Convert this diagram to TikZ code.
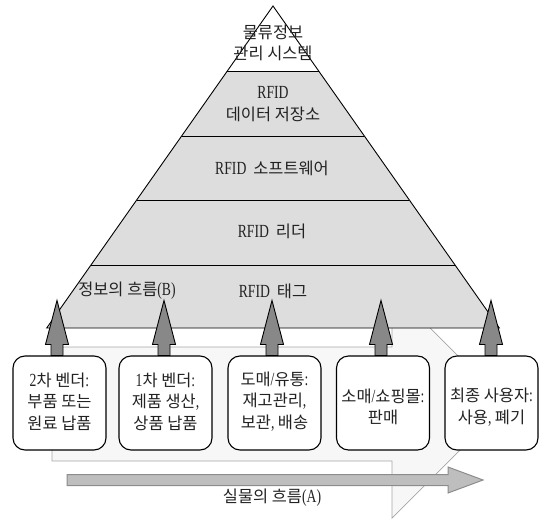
\documentclass[tikz,border=0pt]{standalone}
\usepackage{fontspec}
\setmainfont[FakeStretch=0.74]{Liberation Serif}
\newfontfamily\krfont{Noto Sans CJK KR}
\newcommand\kr{\krfont\fontsize{16.4bp}{21.5bp}\selectfont}
\newcommand\rfidgap{\kern3.5bp\ }
\usetikzlibrary{calc}
\definecolor{pyrgray}{HTML}{DDDDDD}
\definecolor{bgfill}{HTML}{F7F7F7}
\definecolor{bgline}{HTML}{A6A6A6}
\definecolor{upfill}{HTML}{888888}
\definecolor{flowfill}{HTML}{BEBEBE}
\definecolor{flowline}{HTML}{8C8C8C}
\definecolor{txt}{HTML}{222222}
\begin{document}
\begin{tikzpicture}[x=1bp,y=-1bp,
  lbl/.style={text=txt, font=\fontsize{18.5bp}{21.5bp}\selectfont, align=center, inner sep=0pt},
  box/.style={draw=black, line width=1.1bp, fill=white, rounded corners=12bp,
              minimum width=93bp, minimum height=94bp, inner sep=0pt},
  layer/.style={fill=pyrgray},
  divider/.style={draw=black, line width=0.9bp},
  bgarrow/.style={fill=bgfill, draw=bgline, line width=0.7bp},
  uparrow/.style={fill=upfill, draw=black, line width=0.9bp, line join=miter},
  flow/.style={fill=flowfill, draw=flowline, line width=1bp}]
\useasboundingbox (0,0) rectangle (539,520);

% background block arrow (flow of goods)
\coordinate (bgA) at (52,347);
\coordinate (bgB) at (392,347);
\coordinate (bgC) at (392,290);
\coordinate (bgT) at (506,404);
\coordinate (bgD) at (392,518);
\coordinate (bgE) at (392,461);
\coordinate (bgF) at (52,461);
\draw[bgarrow] (bgA) -- (bgB) -- (bgC) -- (bgT) -- (bgD) -- (bgE) -- (bgF) -- cycle;

% pyramid
\coordinate (apex) at (273,6);
\coordinate (bl) at (46.7,328);
\coordinate (br) at (499.3,328);
\coordinate (La) at ($(apex)!0.2019!(bl)$);
\coordinate (Ra) at ($(apex)!0.2019!(br)$);
\coordinate (Lb) at ($(apex)!0.4037!(bl)$);
\coordinate (Rb) at ($(apex)!0.4037!(br)$);
\coordinate (Lc) at ($(apex)!0.6025!(bl)$);
\coordinate (Rc) at ($(apex)!0.6025!(br)$);
\coordinate (Ld) at ($(apex)!0.8043!(bl)$);
\coordinate (Rd) at ($(apex)!0.8043!(br)$);
\fill[layer] (La) -- (bl) -- (br) -- (Ra) -- cycle;
\fill[white] (apex) -- (La) -- (Ra) -- cycle;
\draw[divider] (apex) -- (bl) -- (br) -- cycle;
\draw[divider] (La) -- (Ra);
\draw[divider] (Lb) -- (Rb);
\draw[divider] (Lc) -- (Rc);
\draw[divider] (Ld) -- (Rd);

\node[lbl] (p1) at (273,43) {{\kr 물류정보}\\{\kr 관리 시스템}};
\node[lbl] (p2) at (273,104) {RFID\\{\kr 데이터 저장소}};
\node[lbl] (p3) at (272,168) {RFID\rfidgap{\kr 소프트웨어}};
\node[lbl] (p4) at (272,231) {RFID\rfidgap{\kr 리더}};
\node[lbl] (p5) at (273,291) {RFID\rfidgap{\kr 태그}};
\node[lbl] (info) at (127,291) {{\kr 정보의 흐름}(B)};

% boxes
\node[box] (b1) at (59.5,403) {};
\node[box] (b2) at (165.5,403) {};
\node[box] (b3) at (274.5,403) {};
\node[box] (b4) at (383,403) {};
\node[box] (b5) at (491.5,403) {};

\node[lbl] (t1) at ([yshift=1.5bp]b1.center) {2{\kr 차 벤더}:\\{\kr 부품 또는}\\{\kr 원료 납품}};
\node[lbl] (t2) at ([yshift=1.5bp]b2.center) {1{\kr 차 벤더}:\\{\kr 제품 생산},\\{\kr 상품 납품}};
\node[lbl] (t3) at ([yshift=1.5bp]b3.center) {{\kr 도매}/{\kr 유통}:\\{\kr 재고관리},\\{\kr 보관}, {\kr 배송}};
\node[lbl] (t4) at ([yshift=-4bp]b4.center) {{\kr 소매}/{\kr 쇼핑몰}:\\{\kr 판매}};
\node[lbl] (t5) at ([yshift=-4bp]b5.center) {{\kr 최종 사용자}:\\{\kr 사용}, {\kr 폐기}};

% upward arrows (flow of information)
\foreach \b/\dx in {b1/-2.5,b2/-1.5,b3/-2.5,b4/-2,b5/-0.5}{
  \draw[uparrow] ($(\b.north)+(\dx-6,0)$) -- ++(0,-11) -- ++(-5.5,0)
    -- ($(\b.north)+(\dx,-55)$) -- ($(\b.north)+(\dx+11.5,-11)$) -- ++(-5.5,0)
    -- ($(\b.north)+(\dx+6,0)$) -- cycle;
}

% flow of goods arrow
\coordinate (fA) at (67,474.5);
\coordinate (fB) at (448,474.5);
\coordinate (fC) at (448,467);
\coordinate (fT) at (483,480);
\coordinate (fD) at (448,493);
\coordinate (fE) at (448,485.5);
\coordinate (fF) at (67,485.5);
\draw[flow] (fA) -- (fB) -- (fC) -- (fT) -- (fD) -- (fE) -- (fF) -- cycle;
\node[lbl] (goods) at (272,498) {{\kr 실물의 흐름}(A)};
\end{tikzpicture}
\end{document}
